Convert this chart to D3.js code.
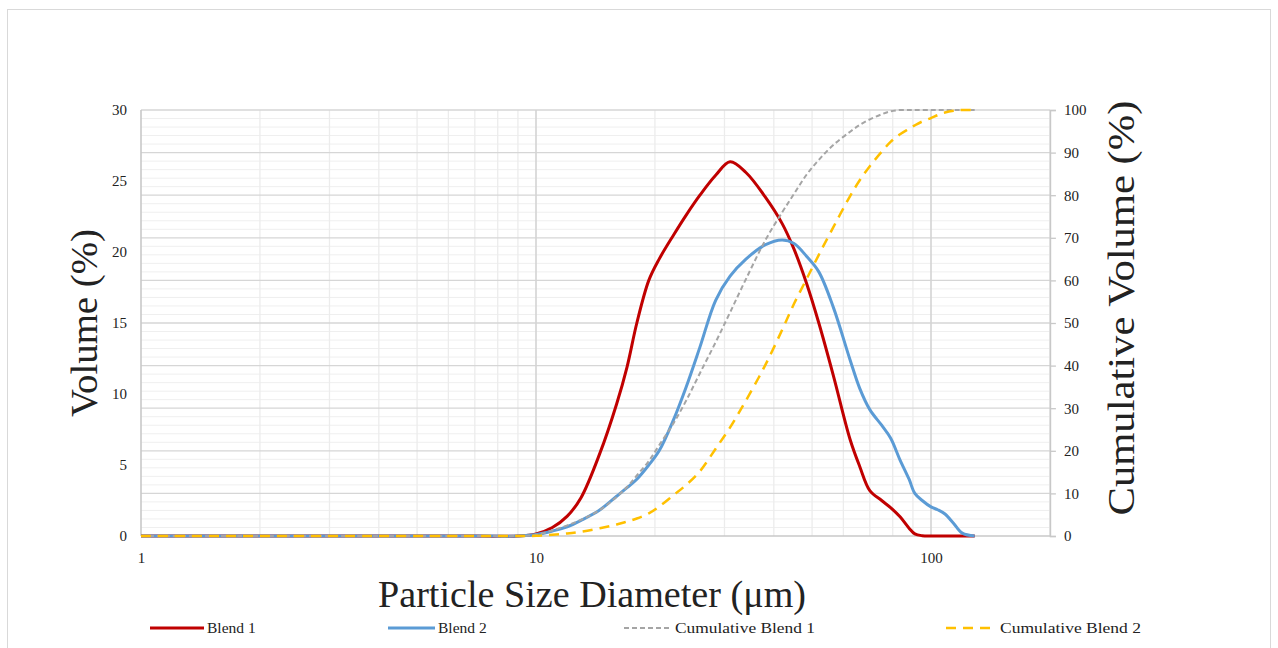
<!DOCTYPE html>
<html>
<head>
<meta charset="utf-8">
<script src="https://cdn.jsdelivr.net/npm/d3@7"></script>
<style>
  body { margin: 0; background: #fff; }
  svg text { font-family: "Liberation Serif", "DejaVu Serif", serif; fill: #222; }
</style>
</head>
<body>
<div id="chart"></div>
<script>
// Particle size distribution - two blends, volume % and cumulative %

const width = 1278;
const height = 648;
const margin = {left: 141, right: 229, top: 110, bottom: 112};

// particle sizes (um), shared by all series
const sizes = [1, 2, 4, 7, 9, 10, 11, 12, 13, 14.5, 16, 17, 18, 19.3, 20.5, 22.3, 24, 26, 28.5, 31,
  34, 38, 42, 45, 48.4, 52, 56.6, 62.4, 66, 70, 75, 79, 83.5, 88, 91, 95, 100, 104, 108.5, 114, 120, 129];

const blend1 = [0, 0, 0, 0, 0, 0.15, 0.6, 1.4, 2.7, 5.8, 9.3, 11.9, 15.0, 18.0, 19.5, 21.2, 22.6, 24.0, 25.4, 26.35,
  25.6, 23.9, 22.0, 20.2, 17.8, 15.0, 11.3, 6.8, 4.9, 3.2, 2.5, 2.0, 1.35, 0.55, 0.15, 0.02, 0, 0, 0, 0, 0, 0];

const blend2 = [0, 0, 0, 0, 0, 0.1, 0.35, 0.65, 1.1, 1.83, 2.8, 3.4, 4.0, 5.0, 6.0, 8.2, 10.5, 13.3, 16.6, 18.3,
  19.5, 20.5, 20.85, 20.6, 19.7, 18.6, 16.1, 12.4, 10.4, 8.9, 7.8, 6.9, 5.35, 4.0, 3.0, 2.5, 2.05, 1.85, 1.55, 0.9, 0.2, 0];

const cumBlend1 = [0, 0, 0, 0, 0, 0.3, 1.3, 2.5, 3.8, 6.1, 9.2, 11.5, 14.2, 17.6, 21.3, 26.5, 31.8, 38.2, 45.5, 52.5,
  60.3, 69.3, 76.0, 80.3, 84.8, 88.3, 91.8, 94.9, 96.5, 97.8, 99.0, 99.7, 100, 100, 100, 100, 100, 100, 100, 100, 100, 100];

const cumBlend2 = [0, 0, 0, 0, 0, 0.05, 0.3, 0.6, 1.0, 1.8, 2.7, 3.4, 4.1, 5.3, 6.9, 9.6, 12.0, 15.2, 20.5, 25.5,
  31.8, 40.0, 48.4, 54.5, 60.3, 66.0, 72.5, 79.8, 83.5, 86.8, 90.2, 92.5, 94.3, 95.6, 96.4, 97.3, 98.1, 98.8, 99.4, 99.8, 100, 100];

const leftTicks = [0, 5, 10, 15, 20, 25, 30];
const rightTicks = [0, 10, 20, 30, 40, 50, 60, 70, 80, 90, 100];
const xTickLabels = [1, 10, 100];

const series = [
  {name: "Blend 1", values: blend1, axis: "left", color: "#C00000", width: 3, dash: null},
  {name: "Blend 2", values: blend2, axis: "left", color: "#5B9BD5", width: 3, dash: null},
  {name: "Cumulative Blend 1", values: cumBlend1, axis: "right", color: "#A5A5A5", width: 2, dash: "5,3"},
  {name: "Cumulative Blend 2", values: cumBlend2, axis: "right", color: "#FFC000", width: 2.5, dash: "10,7"}
];

const svg = d3.select("#chart")
  .append("svg")
  .attr("width", width)
  .attr("height", height);

// outer frame
svg.append("rect")
  .attr("x", 7.5).attr("y", 9.5)
  .attr("width", 1263).attr("height", 700)
  .attr("fill", "none")
  .attr("stroke", "#d9d9d9");

const plotBottom = height - margin.bottom;

const xScale = d3.scaleLog()
  .domain([1, 200])
  .range([margin.left, margin.left + 395 * Math.log10(200)]);

const yLeft = d3.scaleLinear().domain([0, 30]).range([plotBottom, margin.top]);
const yRight = d3.scaleLinear().domain([0, 100]).range([plotBottom, margin.top]);

const x0 = xScale(1), x1 = xScale(200);

// minor horizontal grid (every 2 on right axis)
svg.append("g")
  .selectAll("line")
  .data(d3.range(2, 100, 2).filter(d => d % 10 !== 0))
  .enter().append("line")
    .attr("x1", x0).attr("x2", x1)
    .attr("y1", d => yRight(d)).attr("y2", d => yRight(d))
    .attr("stroke", "#efefef").attr("stroke-width", 1);

// minor vertical grid
const minorX = [];
[1, 10, 100].forEach(dec => {
  for (let k = 2; k <= 9; k++) if (dec * k <= 200) minorX.push(dec * k);
});
svg.append("g")
  .selectAll("line")
  .data(minorX)
  .enter().append("line")
    .attr("x1", d => xScale(d)).attr("x2", d => xScale(d))
    .attr("y1", margin.top).attr("y2", plotBottom)
    .attr("stroke", "#ececec").attr("stroke-width", 1.3);

// major horizontal grid (right axis ticks)
svg.append("g")
  .selectAll("line")
  .data(rightTicks.filter(d => d > 0))
  .enter().append("line")
    .attr("x1", x0).attr("x2", x1)
    .attr("y1", d => yRight(d)).attr("y2", d => yRight(d))
    .attr("stroke", "#d6d6d6").attr("stroke-width", 1.3);

// major vertical grid
svg.append("g")
  .selectAll("line")
  .data([10, 100])
  .enter().append("line")
    .attr("x1", d => xScale(d)).attr("x2", d => xScale(d))
    .attr("y1", margin.top).attr("y2", plotBottom)
    .attr("stroke", "#d4d4d4").attr("stroke-width", 1.6);

// axes lines
svg.append("line")
  .attr("x1", x0).attr("x2", x0).attr("y1", margin.top).attr("y2", plotBottom)
  .attr("stroke", "#c8c8c8").attr("stroke-width", 1.6);
svg.append("line")
  .attr("x1", x0).attr("x2", x1).attr("y1", plotBottom).attr("y2", plotBottom)
  .attr("stroke", "#c8c8c8").attr("stroke-width", 1.6);

// left axis labels
svg.append("g")
  .attr("transform", `translate(${x0}, 0)`)
  .call(d3.axisLeft(yLeft).tickValues(leftTicks).tickSize(0).tickPadding(14))
  .call(g => g.select(".domain").remove())
  .selectAll("text")
    .attr("font-size", "15px")
    .style("font-family", "Liberation Serif, serif")
    .attr("fill", "#333");

// right axis with outward ticks
svg.append("g")
  .attr("transform", `translate(${x1}, 0)`)
  .call(d3.axisRight(yRight).tickValues(rightTicks).tickSize(6).tickPadding(8))
  .call(g => g.select(".domain").attr("stroke", "#c8c8c8").attr("stroke-width", 1.6))
  .call(g => g.selectAll(".tick line").attr("stroke", "#c8c8c8").attr("stroke-width", 1.3))
  .selectAll("text")
    .attr("font-size", "15px")
    .style("font-family", "Liberation Serif, serif")
    .attr("fill", "#333");

// bottom axis labels
svg.append("g")
  .attr("transform", `translate(0, ${plotBottom})`)
  .call(d3.axisBottom(xScale).tickValues(xTickLabels).tickFormat(d3.format("d")).tickSize(0).tickPadding(16))
  .call(g => g.select(".domain").remove())
  .selectAll("text")
    .attr("font-size", "15px")
    .style("font-family", "Liberation Serif, serif")
    .attr("fill", "#333");

// series lines
series.forEach(s => {
  const y = s.axis === "left" ? yLeft : yRight;
  const line = d3.line()
    .x((d, i) => xScale(sizes[i]))
    .y(d => y(d))
    .curve(d3.curveCatmullRom.alpha(0.5));
  svg.append("path")
    .datum(s.values)
    .attr("d", line)
    .attr("fill", "none")
    .attr("stroke", s.color)
    .attr("stroke-width", s.width)
    .attr("stroke-dasharray", s.dash)
    .attr("stroke-linejoin", "round");
});

// axis titles
svg.append("text")
  .attr("transform", `translate(97, ${(margin.top + plotBottom) / 2}) rotate(-90)`)
  .attr("text-anchor", "middle")
  .attr("font-size", "38px")
  .attr("textLength", 188)
  .attr("lengthAdjust", "spacingAndGlyphs")
  .text("Volume (%)");

svg.append("text")
  .attr("transform", `translate(1134, ${(margin.top + plotBottom) / 2 - 15}) rotate(-90)`)
  .attr("text-anchor", "middle")
  .attr("font-size", "38px")
  .attr("textLength", 415)
  .attr("lengthAdjust", "spacingAndGlyphs")
  .text("Cumulative Volume (%)");

svg.append("text")
  .attr("x", 592).attr("y", 607)
  .attr("text-anchor", "middle")
  .attr("font-size", "38px")
  .attr("textLength", 428)
  .attr("lengthAdjust", "spacingAndGlyphs")
  .text("Particle Size Diameter (\u03bcm)");

// legend
const legendPos = [
  {x: 150, len: 54, textLen: null},
  {x: 388, len: 47, textLen: null},
  {x: 624, len: 48, textLen: 140},
  {x: 946, len: 51, textLen: 141}
];
const legend = svg.append("g");
series.forEach((s, i) => {
  const p = legendPos[i];
  const g = legend.append("g").attr("transform", `translate(${p.x}, 628)`);
  g.append("line")
    .attr("x1", 0).attr("x2", p.len).attr("y1", 0).attr("y2", 0)
    .attr("stroke", s.color).attr("stroke-width", s.width)
    .attr("stroke-dasharray", s.dash);
  const t = g.append("text")
    .attr("x", p.len + 3).attr("y", 5)
    .attr("font-size", "15.5px")
    .text(s.name);
  if (p.textLen) t.attr("textLength", p.textLen).attr("lengthAdjust", "spacingAndGlyphs");
});
</script>
</body>
</html>
